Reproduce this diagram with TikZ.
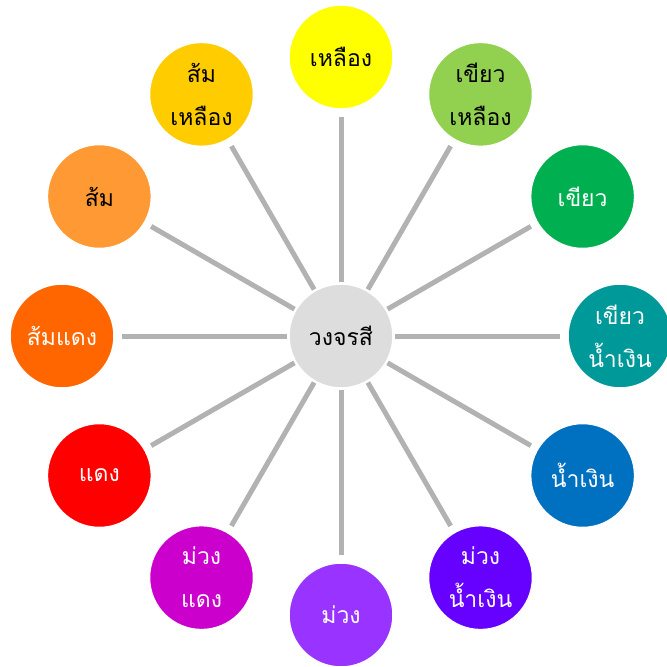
\documentclass[tikz,border=0pt]{standalone}
\usepackage{fontspec}
\newfontfamily\thaifont[Script=Thai]{Loma}
\definecolor{cYel}{HTML}{FFFF00}
\definecolor{cYelGrn}{HTML}{92D050}
\definecolor{cGrn}{HTML}{00B050}
\definecolor{cTeal}{HTML}{009999}
\definecolor{cBlue}{HTML}{0070C0}
\definecolor{cBlueVio}{HTML}{6600FF}
\definecolor{cVio}{HTML}{9933FF}
\definecolor{cMag}{HTML}{CC00CC}
\definecolor{cRed}{HTML}{FF0000}
\definecolor{cOrRed}{HTML}{FF6600}
\definecolor{cOr}{HTML}{FF9933}
\definecolor{cYelOr}{HTML}{FFCC00}
\definecolor{cCenter}{HTML}{DDDDDD}
\definecolor{cLine}{HTML}{B2B2B2}
\tikzset{
  bubble/.style={circle, draw=white, line width=1.5pt, minimum size=104pt, inner sep=0pt,
    align=center, font=\thaifont\fontsize{23}{43}\selectfont},
  spoke/.style={draw=cLine, line width=5pt, shorten <=1pt, shorten >=7pt},
}
\begin{document}
\begin{tikzpicture}[x=1pt,y=-1pt]
\useasboundingbox (0,0) rectangle (667,667);
\clip (0,0) rectangle (667,667);
\node[bubble, fill=cCenter, text=black] (c) at (341,336) {วงจรสี};
\foreach \i/\col/\txt/\tc in {
  1/cYel/เหลือง/black,
  2/cYelGrn/เขียว\\เหลือง/black,
  3/cGrn/เขียว/white,
  4/cTeal/เขียว\\น้ำเงิน/white,
  5/cBlue/น้ำเงิน/white,
  6/cBlueVio/ม่วง\\น้ำเงิน/white,
  7/cVio/ม่วง/white,
  8/cMag/ม่วง\\แดง/white,
  9/cRed/แดง/white,
  10/cOrRed/ส้มแดง/white,
  11/cOr/ส้ม/black,
  12/cYelOr/ส้ม\\เหลือง/black}{
  \node[bubble, fill=\col, text=\tc] (n\i) at ({341+279*sin(30*(\i-1))},{336-279*cos(30*(\i-1))}) {\txt};
}
\foreach \i in {1,...,12}{
  \draw[spoke] (c) -- (n\i);
}
\end{tikzpicture}
\end{document}
